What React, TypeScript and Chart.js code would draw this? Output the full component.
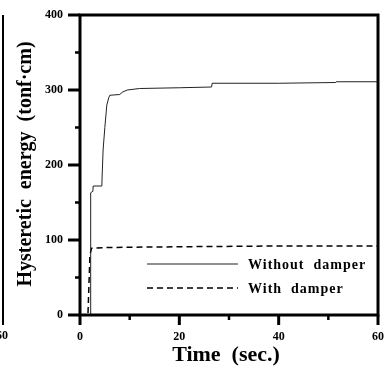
import React, { useEffect, useRef } from "react";
import { Chart, registerables } from "chart.js";

Chart.register(...registerables);

// Time (sec.) and hysteretic energy (tonf·cm), without damper
const timeWithout = [0, 2.1, 2.15, 2.6, 2.65, 4.4, 4.45, 4.65, 5.0, 5.4, 5.8, 6.0, 8.0, 8.5, 9.5, 12, 20, 26.5, 26.6, 40, 51.5, 51.6, 60];
const energyWithout = [0, 0, 163, 165, 172, 172, 184, 220, 250, 280, 290, 293, 294, 297, 300, 302, 303, 304, 309, 309, 310, 311, 311];

// with damper
const timeWith = [0, 1.6, 1.8, 2.0, 2.3, 5, 20, 40, 60];
const energyWith = [0, 0, 40, 80, 89, 90, 91, 92, 92];

const seriesLabels = ["Without damper", "With damper"];
const xTitle = "Time  (sec.)";
const yTitle = "Hysteretic  energy  (tonf·cm)";

const xMajor = [0, 20, 40, 60];
const xMinor = [10, 30, 50];
const yMajor = [0, 100, 200, 300, 400];
const yMinor = [50, 150, 250, 350];
const leftPanelLabel = "60";

const FONT = "'Liberation Serif', 'Times New Roman', serif";

const decor = {
  id: "decor",
  afterDatasetsDraw(chart: any) {
    const { ctx, chartArea, scales } = chart;
    const { left, right, top, bottom } = chartArea;
    const x = scales.x;
    const y = scales.y;
    ctx.save();
    ctx.strokeStyle = "#000";
    ctx.fillStyle = "#000";
    ctx.lineWidth = 3;
    ctx.strokeRect(left, top, right - left, bottom - top);
    const seg = (x1: number, y1: number, x2: number, y2: number, w: number) => {
      ctx.lineWidth = w;
      ctx.beginPath();
      ctx.moveTo(x1, y1);
      ctx.lineTo(x2, y2);
      ctx.stroke();
    };
    yMajor.forEach((v) => {
      const p = y.getPixelForValue(v);
      seg(left - 12, p, left, p, 3);
    });
    yMinor.forEach((v) => {
      const p = y.getPixelForValue(v);
      seg(left - 5, p, left, p, 2.5);
    });
    xMajor.forEach((v) => {
      const p = x.getPixelForValue(v);
      seg(p, bottom, p, bottom + 10, 3);
    });
    xMinor.forEach((v) => {
      const p = x.getPixelForValue(v);
      seg(p, bottom, p, bottom + 5, 2.5);
    });
    // partial neighbouring panel at left edge
    seg(3, top, 3, bottom + 10, 2);
    ctx.font = `bold 12px ${FONT}`;
    ctx.textAlign = "center";
    ctx.textBaseline = "middle";
    ctx.fillText(leftPanelLabel, 2, 336);

    // legend
    const lx1 = 147, lx2 = 238;
    const ly = [264, 288];
    chart.data.datasets.forEach((ds: any, i: number) => {
      ctx.save();
      ctx.lineWidth = ds.borderWidth;
      ctx.strokeStyle = ds.borderColor;
      ctx.setLineDash(ds.borderDash || []);
      ctx.beginPath();
      ctx.moveTo(lx1, ly[i]);
      ctx.lineTo(lx2, ly[i]);
      ctx.stroke();
      ctx.restore();
      ctx.font = `bold 14px ${FONT}`;
      (ctx as any).letterSpacing = "1px";
      ctx.textAlign = "left";
      ctx.textBaseline = "middle";
      ctx.fillText(ds.label.replace(" ", "  "), 248, ly[i] + 1);
    });

    ctx.font = `bold 22px ${FONT}`;
    (ctx as any).letterSpacing = "0px";
    ctx.textAlign = "center";
    ctx.textBaseline = "alphabetic";
    ctx.fillText(xTitle, (left + right) / 2 - 3, 361);

    ctx.save();
    ctx.translate(31, (top + bottom) / 2 - 1);
    ctx.rotate(-Math.PI / 2);
    ctx.font = `bold 20px ${FONT}`;
    ctx.textAlign = "center";
    ctx.textBaseline = "alphabetic";
    ctx.fillText(yTitle, 0, 0);
    ctx.restore();
    ctx.restore();
  },
};

export default function App() {
  const ref = useRef<HTMLCanvasElement | null>(null);
  useEffect(() => {
    if (!ref.current) return;
    const chart = new Chart(ref.current, {
      type: "line",
      data: {
        datasets: [
          {
            label: seriesLabels[0],
            data: timeWithout.map((t, i) => ({ x: t, y: energyWithout[i] })),
            borderColor: "#222",
            borderWidth: 1,
            pointRadius: 0,
            tension: 0,
          },
          {
            label: seriesLabels[1],
            data: timeWith.map((t, i) => ({ x: t, y: energyWith[i] })),
            borderColor: "#000",
            borderWidth: 1.5,
            borderDash: [6, 4],
            pointRadius: 0,
            tension: 0,
          },
        ],
      },
      options: {
        animation: false,
        responsive: false,
        layout: { padding: { left: 0, right: 9, top: 15, bottom: 0 } },
        plugins: { legend: { display: false }, tooltip: { enabled: false } },
        scales: {
          x: {
            type: "linear",
            min: 0,
            max: 60,
            grid: { display: false, drawTicks: false },
            border: { display: false },
            ticks: {
              stepSize: 20,
              color: "#000",
              padding: 15,
              font: { family: FONT, size: 12, weight: "bold" },
              maxRotation: 0,
            },
            afterFit: (s: any) => {
              s.height = 55;
              s.paddingLeft = 0;
              s.paddingRight = 0;
            },
          },
          y: {
            type: "linear",
            min: 0,
            max: 400,
            grid: { display: false, drawTicks: false },
            border: { display: false },
            ticks: {
              stepSize: 100,
              color: "#000",
              padding: 17,
              font: { family: FONT, size: 12, weight: "bold" },
            },
            afterFit: (s: any) => {
              s.width = 80;
              s.paddingTop = 0;
              s.paddingBottom = 0;
            },
          },
        },
      },
      plugins: [decor],
    });
    return () => chart.destroy();
  }, []);
  return (
    <div style={{ position: "absolute", left: 0, top: 0, width: 387, height: 370, background: "#fff" }}>
      <canvas ref={ref} width={387} height={370} style={{ width: 387, height: 370 }} />
    </div>
  );
}
